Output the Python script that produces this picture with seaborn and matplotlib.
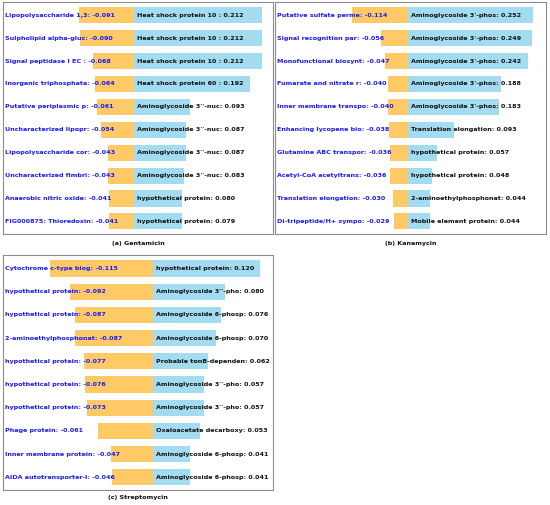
import matplotlib
matplotlib.use("Agg")
import matplotlib.pyplot as plt
import matplotlib.transforms as mtransforms
import seaborn as sns
import pandas as pd

# (a) Gentamicin
gen_neg_names = ["Lipopolysaccharide 1,3", "Sulpholipid alpha-gluc", "Signal peptidase I EC ",
                 "Inorganic triphosphata", "Putative periplasmic p", "Uncharacterized lipopr",
                 "Lipopolysaccharide cor", "Uncharacterized fimbri", "Anaerobic nitric oxide",
                 "FIG000875: Thioredoxin"]
gen_neg_vals = [-0.091, -0.090, -0.068, -0.064, -0.061, -0.054, -0.043, -0.043, -0.041, -0.041]
gen_pos_names = ["Heat shock protein 10 ", "Heat shock protein 10 ", "Heat shock protein 10 ",
                 "Heat shock protein 60 ", "Aminoglycoside 3''-nuc", "Aminoglycoside 3''-nuc",
                 "Aminoglycoside 3''-nuc", "Aminoglycoside 3''-nuc", "hypothetical protein",
                 "hypothetical protein"]
gen_pos_vals = [0.212, 0.212, 0.212, 0.192, 0.093, 0.087, 0.087, 0.083, 0.080, 0.079]

# (b) Kanamycin
kan_neg_names = ["Putative sulfate perme", "Signal recognition par", "Monofunctional biosynt",
                 "Fumarate and nitrate r", "Inner membrane transpo", "Enhancing lycopene bio",
                 "Glutamine ABC transpor", "Acetyl-CoA acetyltrans", "Translation elongation",
                 "Di-tripeptide/H+ sympo"]
kan_neg_vals = [-0.114, -0.056, -0.047, -0.040, -0.040, -0.038, -0.036, -0.036, -0.030, -0.029]
kan_pos_names = ["Aminoglycoside 3'-phos", "Aminoglycoside 3'-phos", "Aminoglycoside 3'-phos",
                 "Aminoglycoside 3'-phos", "Aminoglycoside 3'-phos", "Translation elongation",
                 "hypothetical protein", "hypothetical protein", "2-aminoethylphosphonat",
                 "Mobile element protein"]
kan_pos_vals = [0.252, 0.249, 0.242, 0.188, 0.183, 0.093, 0.057, 0.048, 0.044, 0.044]

# (c) Streptomycin
str_neg_names = ["Cytochrome c-type biog", "hypothetical protein", "hypothetical protein",
                 "2-aminoethylphosphonat", "hypothetical protein", "hypothetical protein",
                 "hypothetical protein", "Phage protein", "Inner membrane protein",
                 "AIDA autotransporter-l"]
str_neg_vals = [-0.115, -0.092, -0.087, -0.087, -0.077, -0.076, -0.073, -0.061, -0.047, -0.046]
str_pos_names = ["hypothetical protein", "Aminoglycoside 3''-pho", "Aminoglycoside 6-phosp",
                 "Aminoglycoside 6-phosp", "Probable tonB-dependen", "Aminoglycoside 3''-pho",
                 "Aminoglycoside 3''-pho", "Oxaloacetate decarboxy", "Aminoglycoside 6-phosp",
                 "Aminoglycoside 6-phosp"]
str_pos_vals = [0.120, 0.080, 0.076, 0.070, 0.062, 0.057, 0.057, 0.053, 0.041, 0.041]

ORANGE = "#FFC966"
BLUE = "#A3DCF0"
FS = 4.6

sns.set_theme(style="white")
plt.rcParams["font.family"] = ["DejaVu Sans"]

fig = plt.figure(figsize=(5.5, 5.05), dpi=100)
W, H = 550.0, 505.0


def px_axes(x0, y0, x1, y1):
    return fig.add_axes([x0 / W, 1 - y1 / H, (x1 - x0) / W, (y1 - y0) / H])


def draw_panel(ax, neg_names, neg_vals, pos_names, pos_vals, xlim, caption):
    df = pd.DataFrame({"rank": list(range(len(neg_vals))),
                       "neg": neg_vals, "pos": pos_vals})
    sns.barplot(data=df, x="neg", y="rank", orient="h", color=ORANGE,
                saturation=1, width=0.7, linewidth=0, ax=ax)
    sns.barplot(data=df, x="pos", y="rank", orient="h", color=BLUE,
                saturation=1, width=0.7, linewidth=0, ax=ax)
    ax.set_xlim(*xlim)
    ax.set_ylim(len(neg_vals) - 0.45, -0.58)
    ax.set_xticks([])
    ax.set_yticks([])
    ax.set_xlabel("")
    ax.set_ylabel("")
    for s in ax.spines.values():
        s.set_visible(True)
        s.set_color("#8c8c8c")
        s.set_linewidth(0.8)
    trans = mtransforms.blended_transform_factory(ax.transAxes, ax.transData)
    for i in range(len(neg_vals)):
        ax.text(0.006, i, f"{neg_names[i]}: {neg_vals[i]:.3f}", transform=trans,
                ha="left", va="center", color="#1a1aff", fontsize=FS,
                fontweight="bold", zorder=5)
        ax.annotate(f"{pos_names[i]}: {pos_vals[i]:.3f}", xy=(0, i),
                    xytext=(2.3, 0), textcoords="offset points",
                    ha="left", va="center", color="#111111", fontsize=FS,
                    fontweight="bold", zorder=5)
    ax.text(0.5, -0.04, caption, transform=ax.transAxes, ha="center", va="center",
            fontsize=FS, fontweight="bold", color="#111111")


ax_a = px_axes(3, 2, 273, 234)
draw_panel(ax_a, gen_neg_names, gen_neg_vals, gen_pos_names, gen_pos_vals,
           (-0.2176, 0.231), "(a) Gentamicin")

ax_b = px_axes(275, 2, 546, 234)
draw_panel(ax_b, kan_neg_names, kan_neg_vals, kan_pos_names, kan_pos_vals,
           (-0.269, 0.278), "(b) Kanamycin")

ax_c = px_axes(3, 255, 273, 490)
draw_panel(ax_c, str_neg_names, str_neg_vals, str_pos_names, str_pos_vals,
           (-0.167, 0.134), "(c) Streptomycin")
ax_c.texts[-1].set_position((0.5, -0.03))

fig.savefig("out.png", dpi=100)
